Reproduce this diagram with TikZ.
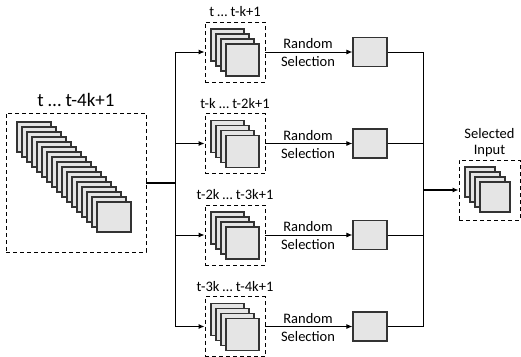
\documentclass[tikz,border=0pt]{standalone}
\usepackage{fontspec}
\setmainfont{Carlito}
\usetikzlibrary{arrows.meta}

\begin{document}
\begin{tikzpicture}[x=1pt,y=-1pt,
    frame/.style={draw=black!80, fill=black!10, line width=1.1pt},
    group/.style={draw, dashed, dash pattern=on 4pt off 3pt, line width=0.9pt, minimum width=60pt, minimum height=60pt, inner sep=0pt},
    pick/.style={draw=black!80, fill=black!10, line width=1.1pt, minimum width=34pt, minimum height=29pt, inner sep=0pt},
    link/.style={line width=1pt},
    arr/.style={line width=1pt, -{Latex[length=6pt,width=5pt]}},
    lbl/.style={font=\fontsize{14.5}{17}\selectfont, inner sep=0pt}]
    \useasboundingbox (0,0) rectangle (521,356);

    % whole input window
    \node[group, minimum width=140pt, minimum height=139pt] (all) at (76,182.5) {};
    \node[font=\fontsize{19}{22}\selectfont, inner sep=0pt] (alllbl) at (76,100) {t … t-4k+1};
    \foreach \i in {0,...,16}
        \draw[frame] (17+5*\i,122+5*\i) rectangle +(34,30);

    \coordinate (split) at (175,182.5);
    \coordinate (merge) at (423,190);
    \draw[line width=2pt] (all.east) -- (split);

    % four sub windows
    \foreach \r/\y/\txt in {1/52/{t … t-k+1}, 2/143.5/{t-k … t-2k+1}, 3/235/{t-2k … t-3k+1}, 4/326.5/{t-3k … t-4k+1}} {
        \node[group] (g\r) at (235,\y) {};
        \node[lbl] (gl\r) at (235,\y-40) {\txt};
        \foreach \i in {0,...,3}
            \draw[frame] (211+5*\i,\y-23+5*\i) rectangle +(33,32);
        \node[pick] (p\r) at (370,\y) {};
        \node[lbl, align=center, font=\fontsize{14.5}{18}\selectfont] (rs\r) at (308,\y+1) {Random\\Selection};
        \draw[arr] (split) |- (g\r.west);
        \draw[arr] (g\r.east) -- (p\r.west);
        \draw[link] (p\r.east) -| (merge);
    }

    % selected input
    \node[group, minimum width=61pt] (sel) at (489.5,190) {};
    \node[lbl, align=center, font=\fontsize{14.5}{16}\selectfont] (sellbl) at (489.5,143) {Selected\\Input};
    \foreach \i in {0,...,3}
        \draw[frame] (465+5*\i,167+5*\i) rectangle +(30,30);
    \draw[arr, line width=2pt] (merge) -- (sel.west);
\end{tikzpicture}
\end{document}
